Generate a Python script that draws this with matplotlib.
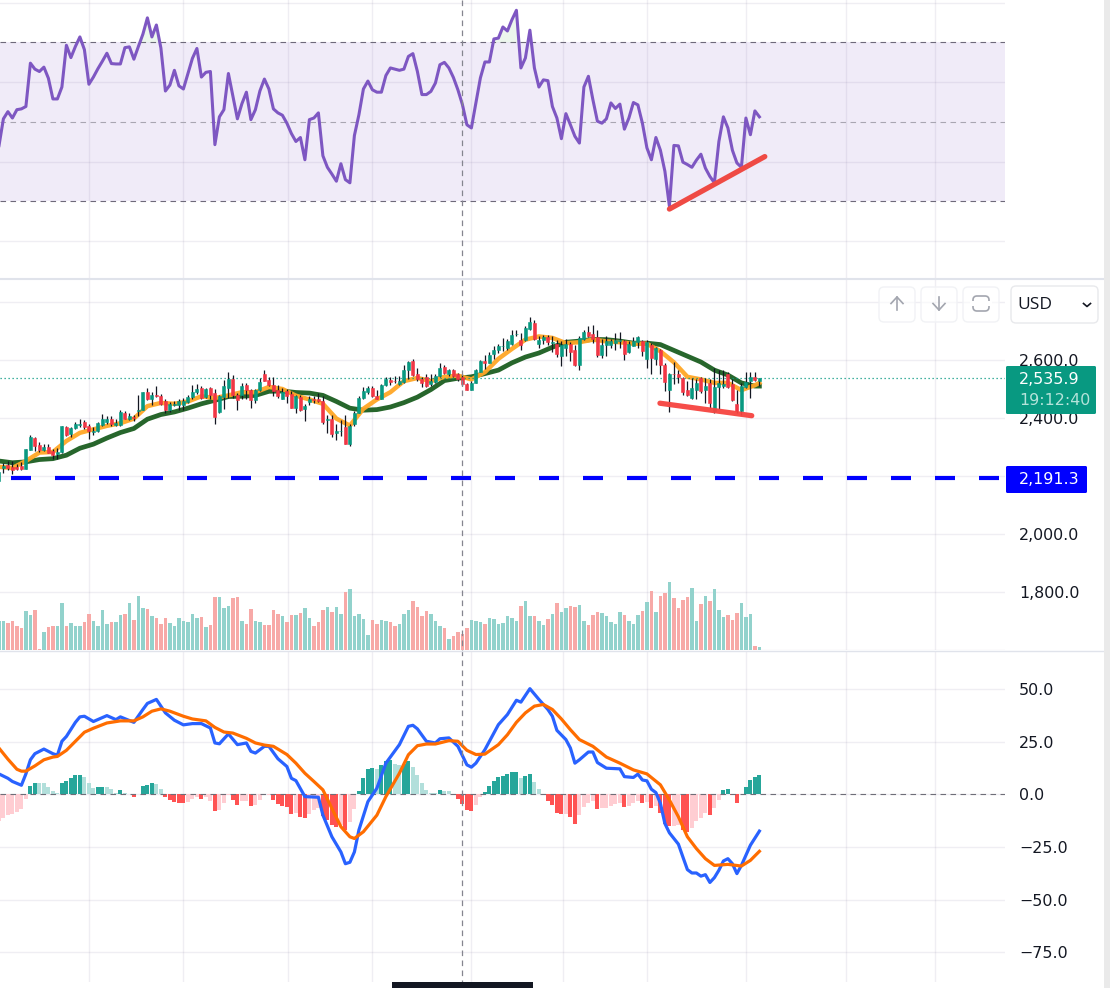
import numpy as np
import matplotlib
matplotlib.use("Agg")
import matplotlib.pyplot as plt
from matplotlib.patches import FancyBboxPatch, Rectangle

# ---------- data ----------
LAST_PRICE = 2535.9
ALERT_PRICE = 2191.3
COUNTDOWN = "19:12:40"

opens = [2183,2226,2236,2232,2232,2234,2225,2289,2331,2307,
 2289,2300,2284,2275,2282,2369,2343,2363,2376,2384,
 2373,2351,2354,2376,2387,2396,2376,2376,2418,2395,
 2403,2423,2426,2490,2465,2480,2476,2459,2428,2444,
 2445,2445,2455,2471,2488,2504,2472,2501,2485,2419,
 2471,2503,2535,2480,2477,2514,2495,2460,2497,2552,
 2531,2514,2497,2466,2492,2483,2434,2473,2429,2453,
 2464,2463,2457,2391,2397,2347,2354,2369,2308,2380,
 2417,2468,2488,2503,2476,2466,2512,2531,2528,2517,
 2523,2566,2597,2552,2535,2539,2515,2523,2545,2576,
 2552,2566,2552,2539,2515,2497,2521,2559,2597,2589,
 2621,2635,2646,2640,2655,2687,2669,2667,2707,2727,
 2655,2667,2678,2657,2655,2612,2641,2655,2635,2583,
 2672,2694,2689,2679,2617,2652,2649,2657,2664,2665,
 2628,2648,2662,2664,2604,2652,2604,2635,2583,2494,
 2552,2552,2537,2494,2467,2497,2537,2494,2518,2423,
 2507,2511,2549,2515,2446,2423,2505,2525,2541,2525]
highs = [2223,2245,2251,2251,2240,2248,2293,2339,2335,2317,
 2311,2311,2291,2297,2373,2371,2369,2385,2397,2391,
 2377,2369,2385,2413,2405,2405,2397,2425,2423,2415,
 2408,2480,2490,2503,2489,2511,2483,2463,2453,2457,
 2463,2468,2480,2514,2517,2508,2503,2506,2499,2477,
 2529,2559,2548,2485,2520,2520,2499,2499,2537,2565,
 2539,2540,2514,2503,2499,2491,2480,2480,2449,2474,
 2474,2485,2474,2408,2408,2377,2392,2411,2377,2423,
 2474,2506,2511,2508,2495,2516,2540,2540,2545,2545,
 2580,2597,2603,2572,2541,2549,2549,2552,2589,2580,
 2568,2569,2555,2549,2518,2526,2569,2600,2617,2625,
 2646,2655,2675,2671,2703,2703,2692,2715,2748,2737,
 2683,2686,2686,2683,2667,2663,2671,2660,2652,2680,
 2703,2715,2720,2703,2671,2680,2671,2692,2695,2669,
 2663,2678,2683,2669,2669,2657,2644,2637,2587,2555,
 2593,2566,2541,2526,2537,2532,2541,2537,2532,2572,
 2566,2564,2557,2532,2497,2520,2557,2557,2557,2537]
lows = [2171,2209,2220,2205,2220,2220,2225,2288,2285,2282,
 2285,2277,2257,2257,2277,2337,2335,2360,2369,2362,
 2328,2339,2351,2371,2380,2373,2373,2371,2394,2392,
 2388,2405,2425,2460,2445,2472,2445,2415,2420,2440,
 2428,2428,2451,2463,2482,2463,2468,2463,2380,2417,
 2431,2468,2468,2428,2463,2463,2434,2451,2491,2525,
 2508,2474,2468,2463,2451,2434,2417,2423,2388,2445,
 2451,2453,2380,2348,2335,2323,2337,2308,2303,2371,
 2415,2466,2483,2472,2465,2465,2508,2514,2520,2514,
 2520,2534,2545,2528,2507,2505,2511,2520,2541,2552,
 2545,2541,2528,2511,2494,2494,2518,2557,2568,2587,
 2604,2623,2629,2635,2652,2683,2632,2663,2703,2667,
 2640,2655,2652,2625,2609,2577,2612,2595,2577,2566,
 2669,2678,2657,2609,2606,2614,2640,2632,2640,2600,
 2623,2646,2640,2612,2572,2552,2583,2552,2492,2420,
 2515,2520,2477,2475,2463,2465,2486,2452,2435,2415,
 2429,2503,2503,2457,2417,2408,2503,2469,2526,2511]
closes = [2213,2234,2226,2221,2223,2223,2291,2335,2303,2288,
 2300,2280,2272,2281,2370,2339,2363,2380,2380,2367,
 2353,2355,2383,2396,2397,2380,2381,2421,2394,2407,
 2400,2425,2488,2463,2480,2474,2449,2425,2449,2448,
 2456,2459,2473,2490,2499,2468,2499,2479,2403,2474,
 2511,2535,2477,2460,2511,2497,2460,2495,2524,2528,
 2512,2491,2474,2490,2476,2435,2474,2426,2439,2463,
 2461,2459,2387,2394,2345,2356,2356,2309,2373,2417,
 2468,2493,2503,2475,2466,2513,2533,2522,2525,2528,
 2563,2593,2548,2532,2518,2508,2528,2545,2573,2555,
 2566,2545,2534,2515,2495,2521,2563,2597,2587,2617,
 2635,2648,2648,2665,2686,2689,2652,2710,2731,2672,
 2669,2677,2661,2662,2621,2652,2655,2628,2583,2676,
 2696,2683,2672,2617,2652,2665,2665,2669,2669,2621,
 2655,2665,2679,2631,2662,2607,2639,2583,2523,2552,
 2549,2542,2487,2477,2503,2520,2492,2511,2452,2507,
 2520,2515,2505,2460,2423,2511,2524,2541,2529,2535.9]

ma_bars = list(range(0, 169, 3)) + [169]
ma_fast = [2231,2227,2251,2280,2282,2320,2348,2360,2372,2381,2397,2440,2451,2448,2456,2474,2468,2477,2488,2488,
 2506,2499,2476,2463,2448,2397,2373,2431,2463,2488,2526,2537,2526,2541,2545,2532,2557,2603,2637,2669,
 2680,2675,2657,2660,2669,2663,2660,2655,2655,2629,2591,2541,2532,2520,2520,2495,2512,2520]
ma_slow = [2251,2245,2248,2256,2259,2271,2295,2309,2330,2349,2363,2395,2411,2420,2433,2448,2460,2473,2474,2477,
 2491,2492,2487,2485,2477,2456,2433,2426,2428,2437,2452,2471,2497,2528,2536,2541,2552,2564,2589,2609,
 2623,2643,2660,2664,2670,2669,2664,2657,2657,2652,2632,2612,2592,2564,2547,2520,2509,2509]

volume = [88,88,82,88,73,67,118,106,121,4,
 55,70,73,73,142,73,82,73,73,85,
 109,88,73,121,79,85,85,106,109,142,
 91,163,127,124,103,97,79,97,82,73,
 97,88,85,109,97,100,70,76,160,160,
 127,133,157,160,88,79,124,88,85,76,
 76,121,109,103,85,106,106,112,127,97,
 73,85,121,130,115,130,109,175,184,103,
 109,94,46,91,79,91,88,85,73,79,
 109,121,148,130,103,118,109,88,73,67,
 34,43,55,49,67,91,88,85,79,97,
 94,79,82,103,97,88,133,148,103,103,
 88,76,94,109,142,115,127,133,130,136,
 88,76,106,115,112,103,85,79,115,106,
 88,79,106,118,145,178,115,163,172,205,
 157,127,151,160,187,88,139,163,148,184,
 121,100,106,91,112,142,100,109,13,10]

rsi = [43.9,50.8,52.6,51.0,53.1,53.3,53.9,64.8,63.3,62.7,
 63.8,61.0,55.8,55.8,58.8,69.3,66.2,69.0,71.4,68.2,
 59.5,61.3,63.4,65.3,67.3,64.7,64.6,64.6,68.7,68.9,
 65.8,69.0,72.1,76.2,71.4,74.4,68.6,57.8,59.3,63.0,
 59.1,58.3,62.2,66.0,68.5,61.3,62.5,62.7,44.3,51.3,
 53.1,62.2,56.5,50.8,54.6,57.5,50.6,53.1,57.8,60.8,
 58.3,53.3,52.3,51.7,49.7,47.1,45.1,46.1,40.5,50.6,
 51.0,52.3,41.5,38.6,36.9,35.1,39.5,35.5,34.7,46.6,
 51.8,58.3,60.3,58.1,57.5,57.5,61.7,63.6,63.3,63.0,
 63.3,66.5,67.2,62.7,56.9,56.9,57.7,59.8,64.4,65.0,
 63.6,61.2,58.1,54.4,49.3,48.5,54.8,61.1,65.1,65.1,
 70.9,71.1,73.9,72.9,75.7,78.1,63.6,66.1,73.1,63.6,
 58.8,60.6,60.4,53.9,51.0,45.8,52.1,49.3,46.4,44.7,
 58.8,61.5,55.6,50.2,49.7,50.8,54.8,53.4,54.5,48.2,
 51.0,54.9,54.3,49.7,43.5,40.5,46.1,42.9,37.6,28.8,
 44.1,44.0,39.9,39.3,38.6,40.4,41.9,38.4,36.3,34.7,
 45.1,51.3,48.5,42.9,39.7,38.6,51.0,46.8,52.8,51.3]

macd_bars = [0,2,3,5,6,7,8,10,12,13,14,15,17,18,19,21,24,26,27,30,32,33,35,37,39,41,43,45,47,48,49,51,53,55,56,57,59,60,
 62,64,65,66,68,71,72,74,76,77,78,79,80,82,84,86,89,91,92,93,95,97,98,100,102,104,105,106,108,111,113,115,116,118,
 120,122,123,124,126,127,128,129,131,132,133,135,138,139,141,142,143,144,145,146,147,148,149,151,152,153,154,155,
 156,157,158,159,160,161,162,163,164,165,167,169]
macd_line = [9.7,7.6,6.1,4.3,9.7,16.4,19.3,21.5,19.3,18.6,25.2,27.5,34.2,36.8,37.1,34.6,37.4,35.5,36.8,34.2,40.3,43.2,45.1,38.7,35.2,33.0,33.6,33.6,31.5,24.4,24.0,28.7,23.6,24.4,20.4,19.6,22.8,22.8,
 16.9,13.2,7.6,6.5,-1.1,-1.4,-9.9,-20.2,-27.4,-33.0,-32.3,-27.4,-17.0,-3.5,2.9,14.8,23.6,32.3,32.8,31.1,25.2,24.4,26.4,26.8,22.8,14.0,12.9,14.8,21.2,33.1,37.9,44.7,43.8,50.2,
 45.1,40.3,37.1,30.4,26.0,22.0,14.8,16.4,20.1,20.1,15.1,12.4,12.1,8.4,8.0,9.6,6.8,6.4,2.4,0.8,-4.3,-13.9,-18.3,-23.7,-29.8,-35.8,-37.4,-37.4,
 -38.9,-38.2,-41.9,-39.6,-36.1,-31.7,-30.6,-33.0,-37.7,-33.8,-24.2,-17.5]
signal_bars = [0,2,4,5,6,8,10,12,13,15,17,19,21,24,27,30,32,34,36,38,41,43,46,48,50,52,55,57,59,61,64,66,68,70,72,74,76,78,79,81,84,86,89,
 91,93,95,97,100,102,104,106,108,111,113,115,117,119,121,123,125,127,129,132,135,138,141,144,147,149,151,153,155,157,159,162,165,167,169]
signal_line = [22.0,16.7,11.9,11.0,11.0,13.5,16.4,17.7,18.0,20.9,25.2,29.5,31.4,33.9,34.9,34.9,36.8,39.5,40.6,39.5,37.1,35.8,34.9,31.8,29.6,29.1,26.6,24.4,23.4,22.8,18.9,14.8,10.0,6.1,2.1,-6.7,-15.4,-20.2,-21.0,-17.8,-9.9,-1.1,10.0,
 18.8,23.1,23.9,23.9,25.5,25.2,20.9,18.9,19.1,23.6,28.3,34.2,38.7,41.9,42.7,40.3,35.8,30.7,26.0,22.8,17.7,14.8,11.6,9.7,4.5,-2.7,-10.7,-20.2,-25.8,-30.6,-33.8,-33.3,-34.1,-31.4,-27.1]
hist = [-12.6,-11.3,-9.9,-9.4,-8.3,-7.2,-2.2,4.0,5.3,5.3,
 5.3,3.7,1.6,0.6,5.3,6.4,7.8,9.2,9.2,8.0,
 5.3,3.2,3.5,3.5,3.5,2.4,0.8,2.1,0.5,0.2,
 -1.3,0.3,4.0,4.3,5.3,4.9,2.5,-1.1,-2.7,-3.6,
 -4.1,-4.1,-3.5,-2.4,-1.1,-2.2,-1.4,-3.0,-7.8,-7.5,
 -4.0,-0.3,-2.7,-5.1,-3.2,-3.2,-5.6,-5.1,-2.7,-0.3,
 -0.3,-2.7,-4.6,-5.6,-6.1,-9.4,-8.8,-10.8,-11.3,-9.4,
 -7.5,-6.7,-10.4,-12.3,-14.6,-15.6,-14.6,-17.0,-13.1,-7.0,
 1.6,7.8,12.1,12.4,12.1,14.0,15.9,16.4,14.5,13.7,
 14.2,15.6,13.2,9.2,5.6,2.1,0.5,0.6,2.1,1.6,
 1.6,0.0,-2.2,-4.6,-7.5,-8.0,-5.1,-1.1,1.1,4.0,
 6.4,8.3,8.9,9.7,10.7,10.7,7.6,8.8,9.7,5.9,
 2.5,0.0,-3.0,-5.1,-8.9,-9.4,-9.4,-10.8,-14.2,-9.9,
 -5.9,-4.0,-3.2,-7.0,-6.5,-6.5,-5.6,-4.6,-4.0,-6.1,
 -5.6,-4.1,-3.2,-4.1,-3.7,-6.5,-5.6,-8.9,-14.2,-15.1,
 -15.1,-14.6,-17.0,-18.0,-16.1,-12.7,-11.3,-8.9,-9.9,-6.5,
 -2.7,2.1,2.5,-0.3,-4.1,0.0,3.5,6.8,8.3,9.2]
hist_strength = ["LLLLLLLDDL", "LLLLDDDDDL", "LLDDLLLDLL", "DDDDDLLDDD", "DDLLLDLLDL",
                 "LLDDLLDLLL", "LDDDDDLDDL", "LLDDDDLDLL", "DDDDLDDDLL", "DDLLLLLLDL",
                 "LLDDDDLLDD", "DDDDDDLDDL", "LLDDDDLDDL", "LLLDLLLLLD", "LLLDLDLDDD",
                 "LLDDLLLLDL", "LDDDDLDDDD"]

rsi_levels = [70, 50, 30]
rsi_grid = [80, 60, 40, 20]
price_ticks = [2800, 2600, 2400, 2200, 2000, 1800, 1600]
price_labels = [2600, 2400, 2000, 1800]
macd_ticks = [50, 25, 0, -25, -50, -75]
grid_bars = [20.1, 41.0, 64.2, 83.0, 105.0, 125.3, 144.1, 166.1, 188.2, 208.0]
trend_rsi_bars, trend_rsi_vals = [149, 170.2], [28.1, 41.3]
trend_price_bars, trend_price_vals = [146.9, 167.3], [2450, 2407]
crosshair_bar = 102.9

# ---------- styling ----------
UP, DOWN = "#089981", "#F23645"
WICK = "#131722"
VOL_UP, VOL_DOWN = "#92D2CC", "#F7A9A7"
GRID_COLOR, GRID_ALPHA = "#6B5F8C", 0.10
W, H = 1113, 988
PLOT_W = 1005
BAR_PX = 4.5
X0_PX = -1.1
LABEL_FONT = "DejaVu Sans"
FS = 11.4

fig = plt.figure(figsize=(W / 100, H / 100), dpi=100, facecolor="white")
n = len(closes)
x = np.arange(n)
xlim = ((0 - X0_PX) / BAR_PX, (PLOT_W - X0_PX) / BAR_PX)


def pane(top, bottom, ymax, ymin):
    ax = fig.add_axes([0, 1 - bottom / H, PLOT_W / W, (bottom - top) / H])
    ax.set_xlim(*xlim)
    ax.set_ylim(ymin, ymax)
    for s in ax.spines.values():
        s.set_visible(False)
    ax.set_xticks(grid_bars)
    ax.tick_params(axis="both", length=0, labelbottom=False)
    ax.yaxis.tick_right()
    ax.grid(True, color=GRID_COLOR, alpha=GRID_ALPHA, lw=1.0)
    ax.set_axisbelow(True)
    return ax


def set_labels(ax, ticks, labelled, fmt):
    ax.set_yticks(ticks)
    ax.set_yticklabels([fmt(t) if t in labelled else "" for t in ticks],
                       fontsize=FS, family=LABEL_FONT, color="#131722")
    ax.tick_params(axis="y", pad=10.2)


# ---------- RSI ----------
ax_rsi = pane(0, 278, 50 + 122 / 3.975, 50 - 156 / 3.975)
ax_rsi.set_yticks(rsi_grid)
ax_rsi.set_yticklabels([])
ax_rsi.axhspan(rsi_levels[2], rsi_levels[0], color="#7E57C2", alpha=0.115, lw=0, zorder=1)
for lv, col in zip(rsi_levels, ["#6E6A7A", "#A9A6B2", "#6E6A7A"]):
    ax_rsi.axhline(lv, color=col, lw=0.8, dashes=(5, 4), zorder=1.5)
r = np.array(rsi)
ax_rsi.fill_between(x, 70, r, where=r > 70, interpolate=True, color="#4CAF50", alpha=0.10, lw=0, zorder=1.6)
ax_rsi.plot(x, r, color="#7E57C2", lw=2.2, zorder=3, solid_joinstyle="round")
ax_rsi.plot(trend_rsi_bars, trend_rsi_vals, color="#EF4A44", lw=3.8, solid_capstyle="round", zorder=4)

# ---------- price ----------
PX_PER_USD = 0.2915
ax_price = pane(279, 650, 2600 + (360 - 279) / PX_PER_USD, 2600 - (650 - 360) / PX_PER_USD)
set_labels(ax_price, price_ticks, price_labels, lambda t: f"{t:,.1f}")
ax_price.plot(ma_bars, ma_slow, color="#1B5E20", lw=3.4, zorder=2, alpha=0.95)
ax_price.plot(ma_bars, ma_fast, color="#FFA726", lw=3.2, zorder=2.2, alpha=0.95)
ax_price.axhline(LAST_PRICE, color=UP, lw=0.9, dashes=(1, 2.2), zorder=2.5)
o, c = np.array(opens, float), np.array(closes, float)
cols = np.where(c >= o, UP, DOWN)
ax_price.vlines(x, lows, highs, colors=WICK, lw=0.9, zorder=3)
ax_price.bar(x, c - o, bottom=o, width=0.68, color=cols, edgecolor=cols, lw=0.4, zorder=3.2)
ax_price.plot([xlim[0], xlim[1]], [ALERT_PRICE, ALERT_PRICE], color="#0000FF", lw=3.0,
              linestyle=(7.92, (4.8, 5.76)), dash_capstyle="butt", zorder=3)
ax_price.plot(trend_price_bars, trend_price_vals, color="#F6433F", lw=3.8,
              solid_capstyle="round", zorder=4, alpha=0.95)

# ---------- volume (same pane, own scale) ----------
ax_vol = fig.add_axes(ax_price.get_position(), sharex=ax_price, zorder=ax_price.get_zorder() + 1)
ax_vol.patch.set_visible(False)
ax_vol.set_ylim(0, 371 * 3)
ax_vol.axis("off")
ax_vol.bar(x, volume, width=0.72, lw=0, color=np.where(c >= o, VOL_UP, VOL_DOWN))

# ---------- MACD ----------
PX_PER_UNIT = 2.104
ax_macd = pane(651, 982, (794.3 - 651) / PX_PER_UNIT, -(982 - 794.3) / PX_PER_UNIT)
set_labels(ax_macd, macd_ticks, macd_ticks, lambda t: f"{t:.1f}".replace("-", "\u2212"))
h = np.array(hist)
strong = np.array(list("".join(hist_strength))) == "D"
hcols = [("#26A69A" if s else "#B2DFDB") if v >= 0 else ("#FF5252" if s else "#FFCDD2")
         for v, s in zip(h, strong)]
ax_macd.bar(x, h, width=0.86, color=hcols, lw=0, zorder=2)
ax_macd.axhline(0, color="#6E6E78", lw=0.8, dashes=(5, 4), zorder=2.5)
ax_macd.plot(macd_bars, macd_line, color="#2962FF", lw=2.3, zorder=3)
ax_macd.plot(signal_bars, signal_line, color="#FF6D00", lw=2.3, zorder=3.2)

# ---------- chrome, drawn in a pixel layer ----------
ui = fig.add_axes([0, 0, 1, 1], zorder=20)
ui.set_xlim(0, W)
ui.set_ylim(H, 0)
ui.axis("off")
ui.patch.set_visible(False)

cross_px = X0_PX + crosshair_bar * BAR_PX
ui.plot([cross_px, cross_px], [0, 982], color="#85858F", lw=0.9, dashes=(4.5, 3.5), zorder=1)
ui.plot([0, 1104], [279, 279], color="#E0E3EB", lw=1.5, zorder=1)
ui.plot([0, 1104], [650.5, 650.5], color="#E0E3EB", lw=1.0, zorder=1)
ui.add_patch(Rectangle((1104, 0), 6, H, color="#EAEAEA", lw=0))
ui.add_patch(Rectangle((392, 982), 141, 6, color="#131722", lw=0, zorder=5))

# price tags
ui.add_patch(FancyBboxPatch((1006, 366), 90, 48, boxstyle="round,pad=0,rounding_size=1.5", fc=UP, ec="none", zorder=6))
ui.text(1019, 379, f"{LAST_PRICE:,.1f}", color="white", fontsize=FS, va="center", family=LABEL_FONT, zorder=7)
ui.text(1019, 400, COUNTDOWN, color="#B5E3DA", fontsize=FS, va="center", family=LABEL_FONT, zorder=7)
ui.add_patch(FancyBboxPatch((1006, 466), 81, 27, boxstyle="round,pad=0,rounding_size=1.5", fc="#0000FF", ec="none", zorder=6))
ui.text(1019, 479, f"{ALERT_PRICE:,.1f}", color="white", fontsize=FS, va="center", family=LABEL_FONT, zorder=7)

# buttons
for bx in (879, 921, 963):
    ui.add_patch(FancyBboxPatch((bx, 287), 36, 35, boxstyle="round,pad=0,rounding_size=5",
                                fc=(1, 1, 1, 0.6), ec="#F1F2F5", lw=1.0, zorder=6))
ic = "#A3A6AF"
ui.plot([897, 897], [297, 310], color=ic, lw=1.2, zorder=7)
ui.plot([891, 897, 903], [303.5, 297, 303.5], color=ic, lw=1.2, zorder=7)
ui.plot([939, 939], [297, 310], color=ic, lw=1.2, zorder=7)
ui.plot([933, 939, 945], [303.5, 310, 303.5], color=ic, lw=1.2, zorder=7)
ui.add_patch(FancyBboxPatch((973, 296), 16, 15, boxstyle="round,pad=0,rounding_size=4",
                            fc="none", ec=ic, lw=1.2, zorder=7))
ui.add_patch(Rectangle((970, 301), 22, 5, color="white", lw=0, zorder=7.5))

# currency selector
ui.add_patch(FancyBboxPatch((1011, 286), 87, 37, boxstyle="round,pad=0,rounding_size=5",
                            fc="white", ec="#E8E9EC", lw=1.0, zorder=6))
ui.text(1017, 304.5, "USD", color="#131722", fontsize=12.5, va="center", family="Open Sans", zorder=7)
ui.plot([1083.5, 1087, 1090.5], [303.5, 306.5, 303.5], color="#131722", lw=1.2, zorder=7)

fig.savefig("out.png", dpi=100)
